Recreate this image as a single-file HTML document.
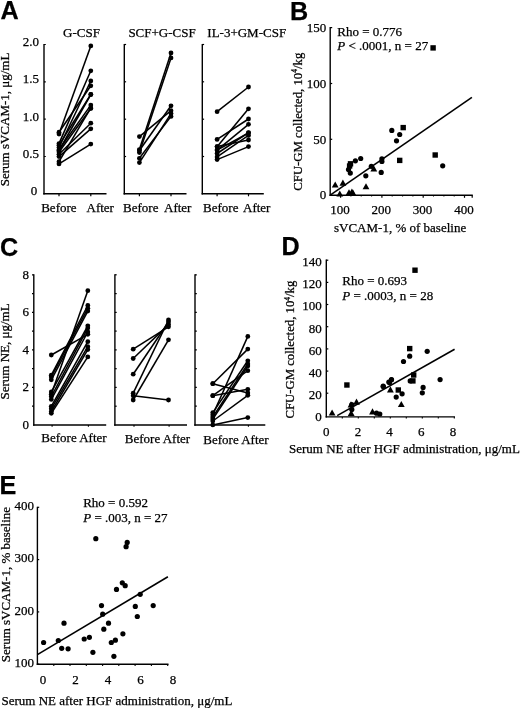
<!DOCTYPE html>
<html><head><meta charset="utf-8"><style>
html,body{margin:0;padding:0;background:#fff;width:520px;height:708px;overflow:hidden}
svg{display:block;will-change:transform}
text{font-family:"Liberation Serif", serif;fill:#000;stroke:#000;stroke-width:0.25px}
</style></head><body>
<svg width="520" height="708" viewBox="0 0 520 708">
<rect width="520" height="708" fill="#fff"/>
<text x="0.5" y="18.8" style='font-family:"Liberation Sans", sans-serif;font-weight:bold' font-size="25.2">A</text>
<line x1="44.0" y1="44.0" x2="44.0" y2="194.5" stroke="#000" stroke-width="1.4"/>
<line x1="43.3" y1="193.8" x2="106.5" y2="193.8" stroke="#000" stroke-width="1.4"/>
<line x1="44.0" y1="156.5" x2="45.8" y2="156.5" stroke="#000" stroke-width="1.2"/>
<line x1="44.0" y1="119.2" x2="45.8" y2="119.2" stroke="#000" stroke-width="1.2"/>
<line x1="44.0" y1="81.8" x2="45.8" y2="81.8" stroke="#000" stroke-width="1.2"/>
<line x1="44.0" y1="44.5" x2="45.8" y2="44.5" stroke="#000" stroke-width="1.2"/>
<line x1="59.0" y1="193.8" x2="59.0" y2="196.3" stroke="#000" stroke-width="1.2"/>
<line x1="90.8" y1="193.8" x2="90.8" y2="196.3" stroke="#000" stroke-width="1.2"/>
<text x="63.1" y="37.2" text-anchor="start" font-size="13" >G-CSF</text>
<text x="41.2" y="211.8" text-anchor="start" font-size="13" >Before</text>
<text x="86.5" y="211.8" text-anchor="start" font-size="13" >After</text>
<line x1="124.3" y1="44.0" x2="124.3" y2="194.5" stroke="#000" stroke-width="1.4"/>
<line x1="123.6" y1="193.8" x2="186.5" y2="193.8" stroke="#000" stroke-width="1.4"/>
<line x1="124.3" y1="156.5" x2="126.1" y2="156.5" stroke="#000" stroke-width="1.2"/>
<line x1="124.3" y1="119.2" x2="126.1" y2="119.2" stroke="#000" stroke-width="1.2"/>
<line x1="124.3" y1="81.8" x2="126.1" y2="81.8" stroke="#000" stroke-width="1.2"/>
<line x1="124.3" y1="44.5" x2="126.1" y2="44.5" stroke="#000" stroke-width="1.2"/>
<line x1="139.4" y1="193.8" x2="139.4" y2="196.3" stroke="#000" stroke-width="1.2"/>
<line x1="171.0" y1="193.8" x2="171.0" y2="196.3" stroke="#000" stroke-width="1.2"/>
<text x="128.4" y="37.2" text-anchor="start" font-size="13" >SCF+G-CSF</text>
<text x="123.1" y="211.8" text-anchor="start" font-size="13" >Before</text>
<text x="164.0" y="211.8" text-anchor="start" font-size="13" >After</text>
<line x1="202.3" y1="44.0" x2="202.3" y2="194.5" stroke="#000" stroke-width="1.4"/>
<line x1="201.6" y1="193.8" x2="263.8" y2="193.8" stroke="#000" stroke-width="1.4"/>
<line x1="202.3" y1="156.5" x2="204.1" y2="156.5" stroke="#000" stroke-width="1.2"/>
<line x1="202.3" y1="119.2" x2="204.1" y2="119.2" stroke="#000" stroke-width="1.2"/>
<line x1="202.3" y1="81.8" x2="204.1" y2="81.8" stroke="#000" stroke-width="1.2"/>
<line x1="202.3" y1="44.5" x2="204.1" y2="44.5" stroke="#000" stroke-width="1.2"/>
<line x1="217.1" y1="193.8" x2="217.1" y2="196.3" stroke="#000" stroke-width="1.2"/>
<line x1="248.5" y1="193.8" x2="248.5" y2="196.3" stroke="#000" stroke-width="1.2"/>
<text x="207.3" y="37.2" text-anchor="start" font-size="13" >IL-3+GM-CSF</text>
<text x="203.1" y="211.8" text-anchor="start" font-size="13" >Before</text>
<text x="243.0" y="211.8" text-anchor="start" font-size="13" >After</text>
<text x="39.0" y="45.9" text-anchor="end" font-size="13" >2.0</text>
<text x="39.0" y="83.2" text-anchor="end" font-size="13" >1.5</text>
<text x="39.0" y="120.6" text-anchor="end" font-size="13" >1.0</text>
<text x="39.0" y="157.9" text-anchor="end" font-size="13" >0.5</text>
<text x="37.2" y="195.2" text-anchor="end" font-size="13" >0</text>
<text transform="translate(9.2,186.3) rotate(-90)" font-size="13">Serum sVCAM-1, μg/mL</text>
<line x1="59.0" y1="134.0" x2="90.8" y2="45.9" stroke="#000" stroke-width="1.55"/>
<line x1="59.0" y1="132.2" x2="90.8" y2="85.8" stroke="#000" stroke-width="1.55"/>
<line x1="59.0" y1="143.6" x2="90.8" y2="70.8" stroke="#000" stroke-width="1.55"/>
<line x1="59.0" y1="147.5" x2="90.8" y2="81.0" stroke="#000" stroke-width="1.55"/>
<line x1="59.0" y1="145.2" x2="90.8" y2="94.5" stroke="#000" stroke-width="1.55"/>
<line x1="59.0" y1="149.8" x2="90.8" y2="105.1" stroke="#000" stroke-width="1.55"/>
<line x1="59.0" y1="152.0" x2="90.8" y2="108.5" stroke="#000" stroke-width="1.55"/>
<line x1="59.0" y1="154.3" x2="90.8" y2="123.2" stroke="#000" stroke-width="1.55"/>
<line x1="59.0" y1="156.6" x2="90.8" y2="128.8" stroke="#000" stroke-width="1.55"/>
<line x1="59.0" y1="161.7" x2="90.8" y2="107.9" stroke="#000" stroke-width="1.55"/>
<line x1="59.0" y1="163.9" x2="90.8" y2="144.1" stroke="#000" stroke-width="1.55"/>
<line x1="59.0" y1="150.5" x2="90.8" y2="94.5" stroke="#000" stroke-width="1.55"/>
<circle cx="59.0" cy="134.0" r="2.4"/>
<circle cx="90.8" cy="45.9" r="2.4"/>
<circle cx="59.0" cy="132.2" r="2.4"/>
<circle cx="90.8" cy="85.8" r="2.4"/>
<circle cx="59.0" cy="143.6" r="2.4"/>
<circle cx="90.8" cy="70.8" r="2.4"/>
<circle cx="59.0" cy="147.5" r="2.4"/>
<circle cx="90.8" cy="81.0" r="2.4"/>
<circle cx="59.0" cy="145.2" r="2.4"/>
<circle cx="90.8" cy="94.5" r="2.4"/>
<circle cx="59.0" cy="149.8" r="2.4"/>
<circle cx="90.8" cy="105.1" r="2.4"/>
<circle cx="59.0" cy="152.0" r="2.4"/>
<circle cx="90.8" cy="108.5" r="2.4"/>
<circle cx="59.0" cy="154.3" r="2.4"/>
<circle cx="90.8" cy="123.2" r="2.4"/>
<circle cx="59.0" cy="156.6" r="2.4"/>
<circle cx="90.8" cy="128.8" r="2.4"/>
<circle cx="59.0" cy="161.7" r="2.4"/>
<circle cx="90.8" cy="107.9" r="2.4"/>
<circle cx="59.0" cy="163.9" r="2.4"/>
<circle cx="90.8" cy="144.1" r="2.4"/>
<circle cx="59.0" cy="150.5" r="2.4"/>
<circle cx="90.8" cy="94.5" r="2.4"/>
<line x1="139.4" y1="136.6" x2="171.0" y2="110.7" stroke="#000" stroke-width="1.55"/>
<line x1="139.4" y1="149.6" x2="171.0" y2="53.0" stroke="#000" stroke-width="1.55"/>
<line x1="139.4" y1="152.5" x2="171.0" y2="57.9" stroke="#000" stroke-width="1.55"/>
<line x1="139.4" y1="158.3" x2="171.0" y2="116.4" stroke="#000" stroke-width="1.55"/>
<line x1="139.4" y1="162.6" x2="171.0" y2="113.6" stroke="#000" stroke-width="1.55"/>
<line x1="139.4" y1="150.5" x2="171.0" y2="105.8" stroke="#000" stroke-width="1.55"/>
<circle cx="139.4" cy="136.6" r="2.4"/>
<circle cx="171.0" cy="110.7" r="2.4"/>
<circle cx="139.4" cy="149.6" r="2.4"/>
<circle cx="171.0" cy="53.0" r="2.4"/>
<circle cx="139.4" cy="152.5" r="2.4"/>
<circle cx="171.0" cy="57.9" r="2.4"/>
<circle cx="139.4" cy="158.3" r="2.4"/>
<circle cx="171.0" cy="116.4" r="2.4"/>
<circle cx="139.4" cy="162.6" r="2.4"/>
<circle cx="171.0" cy="113.6" r="2.4"/>
<circle cx="139.4" cy="150.5" r="2.4"/>
<circle cx="171.0" cy="105.8" r="2.4"/>
<line x1="217.1" y1="111.7" x2="248.5" y2="87.0" stroke="#000" stroke-width="1.55"/>
<line x1="217.1" y1="139.4" x2="248.5" y2="119.0" stroke="#000" stroke-width="1.55"/>
<line x1="217.1" y1="146.7" x2="248.5" y2="108.8" stroke="#000" stroke-width="1.55"/>
<line x1="217.1" y1="150.1" x2="248.5" y2="124.3" stroke="#000" stroke-width="1.55"/>
<line x1="217.1" y1="153.5" x2="248.5" y2="132.6" stroke="#000" stroke-width="1.55"/>
<line x1="217.1" y1="156.9" x2="248.5" y2="135.4" stroke="#000" stroke-width="1.55"/>
<line x1="217.1" y1="146.6" x2="248.5" y2="140.0" stroke="#000" stroke-width="1.55"/>
<line x1="217.1" y1="159.6" x2="248.5" y2="146.6" stroke="#000" stroke-width="1.55"/>
<line x1="217.1" y1="150.1" x2="248.5" y2="133.0" stroke="#000" stroke-width="1.55"/>
<circle cx="217.1" cy="111.7" r="2.4"/>
<circle cx="248.5" cy="87.0" r="2.4"/>
<circle cx="217.1" cy="139.4" r="2.4"/>
<circle cx="248.5" cy="119.0" r="2.4"/>
<circle cx="217.1" cy="146.7" r="2.4"/>
<circle cx="248.5" cy="108.8" r="2.4"/>
<circle cx="217.1" cy="150.1" r="2.4"/>
<circle cx="248.5" cy="124.3" r="2.4"/>
<circle cx="217.1" cy="153.5" r="2.4"/>
<circle cx="248.5" cy="132.6" r="2.4"/>
<circle cx="217.1" cy="156.9" r="2.4"/>
<circle cx="248.5" cy="135.4" r="2.4"/>
<circle cx="217.1" cy="146.6" r="2.4"/>
<circle cx="248.5" cy="140.0" r="2.4"/>
<circle cx="217.1" cy="159.6" r="2.4"/>
<circle cx="248.5" cy="146.6" r="2.4"/>
<circle cx="217.1" cy="150.1" r="2.4"/>
<circle cx="248.5" cy="133.0" r="2.4"/>
<text x="290.0" y="20.0" style='font-family:"Liberation Sans", sans-serif;font-weight:bold' font-size="25.2">B</text>
<line x1="330.2" y1="27.0" x2="330.2" y2="195.9" stroke="#000" stroke-width="1.4"/>
<line x1="329.5" y1="195.2" x2="472.8" y2="195.2" stroke="#000" stroke-width="1.4"/>
<line x1="330.2" y1="195.2" x2="332.2" y2="195.2" stroke="#000" stroke-width="1.2"/>
<line x1="330.2" y1="139.3" x2="332.2" y2="139.3" stroke="#000" stroke-width="1.2"/>
<line x1="330.2" y1="83.5" x2="332.2" y2="83.5" stroke="#000" stroke-width="1.2"/>
<line x1="330.2" y1="27.6" x2="332.2" y2="27.6" stroke="#000" stroke-width="1.2"/>
<line x1="340.6" y1="195.2" x2="340.6" y2="197.8" stroke="#000" stroke-width="1.2"/>
<line x1="381.9" y1="195.2" x2="381.9" y2="197.8" stroke="#000" stroke-width="1.2"/>
<line x1="423.2" y1="195.2" x2="423.2" y2="197.8" stroke="#000" stroke-width="1.2"/>
<line x1="464.5" y1="195.2" x2="464.5" y2="197.8" stroke="#000" stroke-width="1.2"/>
<line x1="350.9" y1="195.2" x2="350.9" y2="196.5" stroke="#000" stroke-width="1.0"/>
<line x1="361.2" y1="195.2" x2="361.2" y2="196.5" stroke="#000" stroke-width="1.0"/>
<line x1="371.6" y1="195.2" x2="371.6" y2="196.5" stroke="#000" stroke-width="1.0"/>
<line x1="392.2" y1="195.2" x2="392.2" y2="196.5" stroke="#000" stroke-width="1.0"/>
<line x1="402.6" y1="195.2" x2="402.6" y2="196.5" stroke="#000" stroke-width="1.0"/>
<line x1="412.9" y1="195.2" x2="412.9" y2="196.5" stroke="#000" stroke-width="1.0"/>
<line x1="433.5" y1="195.2" x2="433.5" y2="196.5" stroke="#000" stroke-width="1.0"/>
<line x1="443.9" y1="195.2" x2="443.9" y2="196.5" stroke="#000" stroke-width="1.0"/>
<line x1="454.2" y1="195.2" x2="454.2" y2="196.5" stroke="#000" stroke-width="1.0"/>
<line x1="472.2" y1="195.2" x2="472.2" y2="197.8" stroke="#000" stroke-width="1.2"/>
<text x="326.2" y="32.4" text-anchor="end" font-size="13" >150</text>
<text x="326.2" y="88.3" text-anchor="end" font-size="13" >100</text>
<text x="326.2" y="144.1" text-anchor="end" font-size="13" >50</text>
<text x="326.2" y="199.3" text-anchor="end" font-size="13" >0</text>
<text x="340.0" y="214.3" text-anchor="middle" font-size="13" >100</text>
<text x="381.3" y="214.3" text-anchor="middle" font-size="13" >200</text>
<text x="422.6" y="214.3" text-anchor="middle" font-size="13" >300</text>
<text x="463.9" y="214.3" text-anchor="middle" font-size="13" >400</text>
<text x="334.0" y="231.8" text-anchor="start" font-size="13" >sVCAM-1, % of baseline</text>
<text transform="translate(302.0,190.7) rotate(-90)" font-size="12.75">CFU-GM collected, 10<tspan font-size="7.5" dy="-4.8">4</tspan><tspan dy="4.8">/kg</tspan></text>
<text x="337.3" y="35.6" text-anchor="start" font-size="13" >Rho = 0.776</text>
<text x="337.3" y="49.8" text-anchor="start" font-size="13" ><tspan font-style="italic">P</tspan> &lt; .0001, n = 27</text>
<rect x="430.4" y="45.2" width="5.4" height="5.4"/>
<line x1="330.2" y1="195.2" x2="471.9" y2="97.3" stroke="#000" stroke-width="1.6"/>
<circle cx="391.8" cy="130.4" r="2.6"/>
<circle cx="399.7" cy="134.5" r="2.6"/>
<circle cx="396.5" cy="140.8" r="2.6"/>
<circle cx="355.4" cy="160.8" r="2.6"/>
<circle cx="360.7" cy="158.5" r="2.6"/>
<circle cx="381.9" cy="158.8" r="2.6"/>
<circle cx="381.9" cy="161.5" r="2.6"/>
<circle cx="348.5" cy="169.6" r="2.6"/>
<circle cx="350.3" cy="173.1" r="2.6"/>
<circle cx="365.8" cy="175.8" r="2.6"/>
<circle cx="381.2" cy="172.4" r="2.6"/>
<circle cx="371.3" cy="166.3" r="2.6"/>
<circle cx="442.7" cy="165.8" r="2.6"/>
<rect x="400.5" y="124.9" width="5.4" height="5.4"/>
<rect x="397.0" y="157.7" width="5.4" height="5.4"/>
<rect x="347.8" y="161.1" width="5.4" height="5.4"/>
<rect x="346.9" y="163.3" width="5.4" height="5.4"/>
<rect x="432.5" y="152.3" width="5.4" height="5.4"/>
<path d="M335.2 181.5L338.6 187.6L331.8 187.6Z"/>
<path d="M342.9 179.6L346.3 185.7L339.5 185.7Z"/>
<path d="M339.8 190.5L343.2 196.6L336.4 196.6Z"/>
<path d="M349.0 189.2L352.4 195.3L345.6 195.3Z"/>
<path d="M351.9 188.4L355.3 194.5L348.5 194.5Z"/>
<path d="M353.0 189.6L356.4 195.7L349.6 195.7Z"/>
<path d="M366.0 183.2L369.4 189.3L362.6 189.3Z"/>
<path d="M373.8 165.3L377.2 171.4L370.4 171.4Z"/>
<text x="0.0" y="255.5" style='font-family:"Liberation Sans", sans-serif;font-weight:bold' font-size="25.2">C</text>
<line x1="33.8" y1="274.3" x2="33.8" y2="425.7" stroke="#000" stroke-width="1.4"/>
<line x1="33.1" y1="425.0" x2="106.2" y2="425.0" stroke="#000" stroke-width="1.4"/>
<line x1="32.0" y1="406.2" x2="33.8" y2="406.2" stroke="#000" stroke-width="1.2"/>
<line x1="32.0" y1="387.4" x2="33.8" y2="387.4" stroke="#000" stroke-width="1.2"/>
<line x1="32.0" y1="368.7" x2="33.8" y2="368.7" stroke="#000" stroke-width="1.2"/>
<line x1="32.0" y1="349.9" x2="33.8" y2="349.9" stroke="#000" stroke-width="1.2"/>
<line x1="32.0" y1="331.1" x2="33.8" y2="331.1" stroke="#000" stroke-width="1.2"/>
<line x1="32.0" y1="312.4" x2="33.8" y2="312.4" stroke="#000" stroke-width="1.2"/>
<line x1="32.0" y1="293.6" x2="33.8" y2="293.6" stroke="#000" stroke-width="1.2"/>
<line x1="32.0" y1="274.8" x2="33.8" y2="274.8" stroke="#000" stroke-width="1.2"/>
<text x="41.3" y="442.4" text-anchor="start" font-size="13" >Before After</text>
<line x1="52.1" y1="425.0" x2="52.1" y2="426.8" stroke="#000" stroke-width="1.1"/>
<line x1="88.4" y1="425.0" x2="88.4" y2="426.8" stroke="#000" stroke-width="1.1"/>
<line x1="114.9" y1="274.3" x2="114.9" y2="425.7" stroke="#000" stroke-width="1.4"/>
<line x1="114.2" y1="425.0" x2="187.0" y2="425.0" stroke="#000" stroke-width="1.4"/>
<line x1="114.9" y1="406.2" x2="116.7" y2="406.2" stroke="#000" stroke-width="1.2"/>
<line x1="114.9" y1="387.4" x2="116.7" y2="387.4" stroke="#000" stroke-width="1.2"/>
<line x1="114.9" y1="368.7" x2="116.7" y2="368.7" stroke="#000" stroke-width="1.2"/>
<line x1="114.9" y1="349.9" x2="116.7" y2="349.9" stroke="#000" stroke-width="1.2"/>
<line x1="114.9" y1="331.1" x2="116.7" y2="331.1" stroke="#000" stroke-width="1.2"/>
<line x1="114.9" y1="312.4" x2="116.7" y2="312.4" stroke="#000" stroke-width="1.2"/>
<line x1="114.9" y1="293.6" x2="116.7" y2="293.6" stroke="#000" stroke-width="1.2"/>
<line x1="114.9" y1="274.8" x2="116.7" y2="274.8" stroke="#000" stroke-width="1.2"/>
<text x="124.8" y="442.7" text-anchor="start" font-size="13" >Before After</text>
<line x1="134.0" y1="425.0" x2="134.0" y2="426.8" stroke="#000" stroke-width="1.1"/>
<line x1="169.1" y1="425.0" x2="169.1" y2="426.8" stroke="#000" stroke-width="1.1"/>
<line x1="195.0" y1="274.3" x2="195.0" y2="425.7" stroke="#000" stroke-width="1.4"/>
<line x1="194.3" y1="425.0" x2="265.3" y2="425.0" stroke="#000" stroke-width="1.4"/>
<line x1="195.0" y1="406.2" x2="196.8" y2="406.2" stroke="#000" stroke-width="1.2"/>
<line x1="195.0" y1="387.4" x2="196.8" y2="387.4" stroke="#000" stroke-width="1.2"/>
<line x1="195.0" y1="368.7" x2="196.8" y2="368.7" stroke="#000" stroke-width="1.2"/>
<line x1="195.0" y1="349.9" x2="196.8" y2="349.9" stroke="#000" stroke-width="1.2"/>
<line x1="195.0" y1="331.1" x2="196.8" y2="331.1" stroke="#000" stroke-width="1.2"/>
<line x1="195.0" y1="312.4" x2="196.8" y2="312.4" stroke="#000" stroke-width="1.2"/>
<line x1="195.0" y1="293.6" x2="196.8" y2="293.6" stroke="#000" stroke-width="1.2"/>
<line x1="195.0" y1="274.8" x2="196.8" y2="274.8" stroke="#000" stroke-width="1.2"/>
<text x="203.3" y="444.2" text-anchor="start" font-size="13" >Before After</text>
<line x1="213.6" y1="425.0" x2="213.6" y2="426.8" stroke="#000" stroke-width="1.1"/>
<line x1="248.4" y1="425.0" x2="248.4" y2="426.8" stroke="#000" stroke-width="1.1"/>
<text x="29.0" y="429.0" text-anchor="end" font-size="13" >0</text>
<text x="29.0" y="391.4" text-anchor="end" font-size="13" >2</text>
<text x="29.0" y="353.9" text-anchor="end" font-size="13" >4</text>
<text x="29.0" y="316.4" text-anchor="end" font-size="13" >6</text>
<text x="29.0" y="278.8" text-anchor="end" font-size="13" >8</text>
<text transform="translate(9.4,399.5) rotate(-90)" font-size="13">Serum NE, μg/mL</text>
<line x1="51.3" y1="355.0" x2="87.8" y2="334.3" stroke="#000" stroke-width="1.55"/>
<line x1="51.3" y1="375.2" x2="87.8" y2="305.5" stroke="#000" stroke-width="1.55"/>
<line x1="51.3" y1="376.9" x2="87.8" y2="308.3" stroke="#000" stroke-width="1.55"/>
<line x1="51.3" y1="379.8" x2="87.8" y2="311.1" stroke="#000" stroke-width="1.55"/>
<line x1="51.3" y1="391.9" x2="87.8" y2="325.8" stroke="#000" stroke-width="1.55"/>
<line x1="51.3" y1="394.2" x2="87.8" y2="290.7" stroke="#000" stroke-width="1.55"/>
<line x1="51.3" y1="396.5" x2="87.8" y2="328.1" stroke="#000" stroke-width="1.55"/>
<line x1="51.3" y1="399.4" x2="87.8" y2="332.0" stroke="#000" stroke-width="1.55"/>
<line x1="51.3" y1="406.3" x2="87.8" y2="341.7" stroke="#000" stroke-width="1.55"/>
<line x1="51.3" y1="408.7" x2="87.8" y2="346.7" stroke="#000" stroke-width="1.55"/>
<line x1="51.3" y1="411.5" x2="87.8" y2="349.6" stroke="#000" stroke-width="1.55"/>
<line x1="51.3" y1="413.3" x2="87.8" y2="356.9" stroke="#000" stroke-width="1.55"/>
<circle cx="51.3" cy="355.0" r="2.4"/>
<circle cx="87.8" cy="334.3" r="2.4"/>
<circle cx="51.3" cy="375.2" r="2.4"/>
<circle cx="87.8" cy="305.5" r="2.4"/>
<circle cx="51.3" cy="376.9" r="2.4"/>
<circle cx="87.8" cy="308.3" r="2.4"/>
<circle cx="51.3" cy="379.8" r="2.4"/>
<circle cx="87.8" cy="311.1" r="2.4"/>
<circle cx="51.3" cy="391.9" r="2.4"/>
<circle cx="87.8" cy="325.8" r="2.4"/>
<circle cx="51.3" cy="394.2" r="2.4"/>
<circle cx="87.8" cy="290.7" r="2.4"/>
<circle cx="51.3" cy="396.5" r="2.4"/>
<circle cx="87.8" cy="328.1" r="2.4"/>
<circle cx="51.3" cy="399.4" r="2.4"/>
<circle cx="87.8" cy="332.0" r="2.4"/>
<circle cx="51.3" cy="406.3" r="2.4"/>
<circle cx="87.8" cy="341.7" r="2.4"/>
<circle cx="51.3" cy="408.7" r="2.4"/>
<circle cx="87.8" cy="346.7" r="2.4"/>
<circle cx="51.3" cy="411.5" r="2.4"/>
<circle cx="87.8" cy="349.6" r="2.4"/>
<circle cx="51.3" cy="413.3" r="2.4"/>
<circle cx="87.8" cy="356.9" r="2.4"/>
<line x1="133.2" y1="349.2" x2="168.5" y2="326.8" stroke="#000" stroke-width="1.55"/>
<line x1="133.2" y1="358.5" x2="168.5" y2="324.6" stroke="#000" stroke-width="1.55"/>
<line x1="133.2" y1="374.2" x2="168.5" y2="322.0" stroke="#000" stroke-width="1.55"/>
<line x1="133.2" y1="393.2" x2="168.5" y2="320.0" stroke="#000" stroke-width="1.55"/>
<line x1="133.2" y1="395.8" x2="168.5" y2="400.0" stroke="#000" stroke-width="1.55"/>
<line x1="133.2" y1="400.0" x2="168.5" y2="339.8" stroke="#000" stroke-width="1.55"/>
<circle cx="133.2" cy="349.2" r="2.4"/>
<circle cx="168.5" cy="326.8" r="2.4"/>
<circle cx="133.2" cy="358.5" r="2.4"/>
<circle cx="168.5" cy="324.6" r="2.4"/>
<circle cx="133.2" cy="374.2" r="2.4"/>
<circle cx="168.5" cy="322.0" r="2.4"/>
<circle cx="133.2" cy="393.2" r="2.4"/>
<circle cx="168.5" cy="320.0" r="2.4"/>
<circle cx="133.2" cy="395.8" r="2.4"/>
<circle cx="168.5" cy="400.0" r="2.4"/>
<circle cx="133.2" cy="400.0" r="2.4"/>
<circle cx="168.5" cy="339.8" r="2.4"/>
<line x1="212.8" y1="383.7" x2="247.8" y2="349.1" stroke="#000" stroke-width="1.55"/>
<line x1="212.8" y1="383.7" x2="247.8" y2="392.9" stroke="#000" stroke-width="1.55"/>
<line x1="212.8" y1="395.7" x2="247.8" y2="389.3" stroke="#000" stroke-width="1.55"/>
<line x1="212.8" y1="395.7" x2="247.8" y2="370.7" stroke="#000" stroke-width="1.55"/>
<line x1="212.8" y1="414.7" x2="247.8" y2="336.4" stroke="#000" stroke-width="1.55"/>
<line x1="212.8" y1="412.6" x2="247.8" y2="360.8" stroke="#000" stroke-width="1.55"/>
<line x1="212.8" y1="416.9" x2="247.8" y2="363.9" stroke="#000" stroke-width="1.55"/>
<line x1="212.8" y1="419.0" x2="247.8" y2="366.0" stroke="#000" stroke-width="1.55"/>
<line x1="212.8" y1="421.0" x2="247.8" y2="395.3" stroke="#000" stroke-width="1.55"/>
<line x1="212.8" y1="424.9" x2="247.8" y2="417.6" stroke="#000" stroke-width="1.55"/>
<circle cx="212.8" cy="383.7" r="2.4"/>
<circle cx="247.8" cy="349.1" r="2.4"/>
<circle cx="212.8" cy="383.7" r="2.4"/>
<circle cx="247.8" cy="392.9" r="2.4"/>
<circle cx="212.8" cy="395.7" r="2.4"/>
<circle cx="247.8" cy="389.3" r="2.4"/>
<circle cx="212.8" cy="395.7" r="2.4"/>
<circle cx="247.8" cy="370.7" r="2.4"/>
<circle cx="212.8" cy="414.7" r="2.4"/>
<circle cx="247.8" cy="336.4" r="2.4"/>
<circle cx="212.8" cy="412.6" r="2.4"/>
<circle cx="247.8" cy="360.8" r="2.4"/>
<circle cx="212.8" cy="416.9" r="2.4"/>
<circle cx="247.8" cy="363.9" r="2.4"/>
<circle cx="212.8" cy="419.0" r="2.4"/>
<circle cx="247.8" cy="366.0" r="2.4"/>
<circle cx="212.8" cy="421.0" r="2.4"/>
<circle cx="247.8" cy="395.3" r="2.4"/>
<circle cx="212.8" cy="424.9" r="2.4"/>
<circle cx="247.8" cy="417.6" r="2.4"/>
<text x="281.5" y="255.2" style='font-family:"Liberation Sans", sans-serif;font-weight:bold' font-size="25.2">D</text>
<line x1="326.3" y1="259.6" x2="326.3" y2="417.6" stroke="#000" stroke-width="1.4"/>
<line x1="325.6" y1="416.9" x2="455.0" y2="416.9" stroke="#000" stroke-width="1.4"/>
<line x1="326.3" y1="393.2" x2="328.3" y2="393.2" stroke="#000" stroke-width="1.2"/>
<line x1="326.3" y1="371.1" x2="328.3" y2="371.1" stroke="#000" stroke-width="1.2"/>
<line x1="326.3" y1="348.9" x2="328.3" y2="348.9" stroke="#000" stroke-width="1.2"/>
<line x1="326.3" y1="326.7" x2="328.3" y2="326.7" stroke="#000" stroke-width="1.2"/>
<line x1="326.3" y1="304.5" x2="328.3" y2="304.5" stroke="#000" stroke-width="1.2"/>
<line x1="326.3" y1="282.4" x2="328.3" y2="282.4" stroke="#000" stroke-width="1.2"/>
<line x1="326.3" y1="260.2" x2="328.3" y2="260.2" stroke="#000" stroke-width="1.2"/>
<text x="321.8" y="420.7" text-anchor="end" font-size="13" >0</text>
<text x="321.8" y="398.6" text-anchor="end" font-size="13" >20</text>
<text x="321.8" y="376.6" text-anchor="end" font-size="13" >40</text>
<text x="321.8" y="354.5" text-anchor="end" font-size="13" >60</text>
<text x="321.8" y="332.5" text-anchor="end" font-size="13" >80</text>
<text x="321.8" y="310.4" text-anchor="end" font-size="13" >100</text>
<text x="321.8" y="288.3" text-anchor="end" font-size="13" >120</text>
<text x="321.8" y="266.3" text-anchor="end" font-size="13" >140</text>
<line x1="342.3" y1="416.9" x2="342.3" y2="418.5" stroke="#000" stroke-width="1.1"/>
<line x1="358.3" y1="416.9" x2="358.3" y2="418.5" stroke="#000" stroke-width="1.1"/>
<line x1="374.3" y1="416.9" x2="374.3" y2="418.5" stroke="#000" stroke-width="1.1"/>
<line x1="390.3" y1="416.9" x2="390.3" y2="418.5" stroke="#000" stroke-width="1.1"/>
<line x1="406.3" y1="416.9" x2="406.3" y2="418.5" stroke="#000" stroke-width="1.1"/>
<line x1="422.3" y1="416.9" x2="422.3" y2="418.5" stroke="#000" stroke-width="1.1"/>
<line x1="438.3" y1="416.9" x2="438.3" y2="418.5" stroke="#000" stroke-width="1.1"/>
<line x1="454.3" y1="416.9" x2="454.3" y2="418.5" stroke="#000" stroke-width="1.1"/>
<text x="326.2" y="436.0" text-anchor="middle" font-size="13" >0</text>
<text x="357.9" y="436.0" text-anchor="middle" font-size="13" >2</text>
<text x="389.6" y="436.0" text-anchor="middle" font-size="13" >4</text>
<text x="421.3" y="436.0" text-anchor="middle" font-size="13" >6</text>
<text x="453.0" y="436.0" text-anchor="middle" font-size="13" >8</text>
<text x="289.0" y="452.8" text-anchor="start" font-size="13" >Serum NE after HGF administration, μg/mL</text>
<text transform="translate(294.3,418.6) rotate(-90)" font-size="12.75">CFU-GM collected, 10<tspan font-size="7.5" dy="-4.8">4</tspan><tspan dy="4.8">/kg</tspan></text>
<text x="342.3" y="284.5" text-anchor="start" font-size="13" >Rho = 0.693</text>
<text x="342.3" y="299.7" text-anchor="start" font-size="13" ><tspan font-style="italic">P</tspan> = .0003, n = 28</text>
<line x1="337.2" y1="415.6" x2="454.6" y2="349.3" stroke="#000" stroke-width="1.6"/>
<rect x="412.3" y="267.5" width="5.4" height="5.4"/>
<rect x="407.0" y="345.9" width="5.4" height="5.4"/>
<rect x="344.2" y="382.3" width="5.4" height="5.4"/>
<rect x="411.0" y="372.3" width="5.4" height="5.4"/>
<rect x="410.2" y="378.2" width="5.4" height="5.4"/>
<rect x="395.6" y="387.3" width="5.4" height="5.4"/>
<circle cx="427.2" cy="351.3" r="2.6"/>
<circle cx="409.7" cy="356.2" r="2.6"/>
<circle cx="403.5" cy="361.5" r="2.6"/>
<circle cx="440.1" cy="379.6" r="2.6"/>
<circle cx="391.4" cy="379.8" r="2.6"/>
<circle cx="389.5" cy="382.5" r="2.6"/>
<circle cx="383.3" cy="386.6" r="2.6"/>
<circle cx="410.2" cy="380.9" r="2.6"/>
<circle cx="423.1" cy="387.4" r="2.6"/>
<circle cx="422.3" cy="392.8" r="2.6"/>
<circle cx="396.2" cy="397.1" r="2.6"/>
<circle cx="402.1" cy="393.8" r="2.6"/>
<circle cx="351.8" cy="404.6" r="2.6"/>
<circle cx="351.8" cy="409.5" r="2.6"/>
<circle cx="376.5" cy="413.2" r="2.6"/>
<circle cx="379.8" cy="414.0" r="2.6"/>
<circle cx="383.2" cy="386.2" r="2.6"/>
<circle cx="388.8" cy="382.0" r="2.6"/>
<circle cx="391.5" cy="379.5" r="2.6"/>
<path d="M332.1 409.5L335.5 415.6L328.7 415.6Z"/>
<path d="M356.5 398.6L359.9 404.7L353.1 404.7Z"/>
<path d="M351.0 401.3L354.4 407.4L347.6 407.4Z"/>
<path d="M351.2 409.8L354.6 415.9L347.8 415.9Z"/>
<path d="M390.4 386.3L393.8 392.4L387.0 392.4Z"/>
<path d="M401.3 400.9L404.7 407.0L397.9 407.0Z"/>
<path d="M372.5 408.3L375.9 414.4L369.1 414.4Z"/>
<text x="-0.6" y="493.8" style='font-family:"Liberation Sans", sans-serif;font-weight:bold' font-size="25.2">E</text>
<line x1="37.4" y1="506.8" x2="37.4" y2="664.9" stroke="#000" stroke-width="1.4"/>
<line x1="36.7" y1="664.2" x2="168.5" y2="664.2" stroke="#000" stroke-width="1.4"/>
<line x1="37.4" y1="664.2" x2="39.2" y2="664.2" stroke="#000" stroke-width="1.2"/>
<text x="33.9" y="667.0" text-anchor="end" font-size="13" >100</text>
<line x1="37.4" y1="611.9" x2="39.2" y2="611.9" stroke="#000" stroke-width="1.2"/>
<text x="33.9" y="614.7" text-anchor="end" font-size="13" >200</text>
<line x1="37.4" y1="559.6" x2="39.2" y2="559.6" stroke="#000" stroke-width="1.2"/>
<text x="33.9" y="562.4" text-anchor="end" font-size="13" >300</text>
<line x1="37.4" y1="507.3" x2="39.2" y2="507.3" stroke="#000" stroke-width="1.2"/>
<text x="33.9" y="510.1" text-anchor="end" font-size="13" >400</text>
<line x1="53.8" y1="664.2" x2="53.8" y2="666.0" stroke="#000" stroke-width="1.1"/>
<line x1="70.0" y1="664.2" x2="70.0" y2="666.0" stroke="#000" stroke-width="1.1"/>
<line x1="86.3" y1="664.2" x2="86.3" y2="666.0" stroke="#000" stroke-width="1.1"/>
<line x1="102.6" y1="664.2" x2="102.6" y2="666.0" stroke="#000" stroke-width="1.1"/>
<line x1="118.8" y1="664.2" x2="118.8" y2="666.0" stroke="#000" stroke-width="1.1"/>
<line x1="135.1" y1="664.2" x2="135.1" y2="666.0" stroke="#000" stroke-width="1.1"/>
<line x1="151.4" y1="664.2" x2="151.4" y2="666.0" stroke="#000" stroke-width="1.1"/>
<line x1="167.7" y1="664.2" x2="167.7" y2="666.0" stroke="#000" stroke-width="1.1"/>
<text x="43.1" y="684.3" text-anchor="middle" font-size="13" >0</text>
<text x="75.6" y="684.3" text-anchor="middle" font-size="13" >2</text>
<text x="108.1" y="684.3" text-anchor="middle" font-size="13" >4</text>
<text x="140.6" y="684.3" text-anchor="middle" font-size="13" >6</text>
<text x="173.1" y="684.3" text-anchor="middle" font-size="13" >8</text>
<text x="1.5" y="704.6" text-anchor="start" font-size="13" >Serum NE after HGF administration, μg/mL</text>
<text transform="translate(10.0,662.2) rotate(-90)" font-size="13">Serum sVCAM-1, % baseline</text>
<text x="83.2" y="507.3" text-anchor="start" font-size="13" >Rho = 0.592</text>
<text x="83.2" y="521.6" text-anchor="start" font-size="13" ><tspan font-style="italic">P</tspan> = .003, n = 27</text>
<line x1="37.4" y1="654.6" x2="167.9" y2="576.7" stroke="#000" stroke-width="1.6"/>
<circle cx="95.8" cy="538.7" r="2.6"/>
<circle cx="127.2" cy="542.4" r="2.6"/>
<circle cx="126.1" cy="546.7" r="2.6"/>
<circle cx="116.5" cy="589.4" r="2.6"/>
<circle cx="122.3" cy="582.8" r="2.6"/>
<circle cx="125.2" cy="585.7" r="2.6"/>
<circle cx="140.2" cy="594.3" r="2.6"/>
<circle cx="101.5" cy="605.6" r="2.6"/>
<circle cx="102.7" cy="614.2" r="2.6"/>
<circle cx="135.3" cy="606.4" r="2.6"/>
<circle cx="137.3" cy="616.5" r="2.6"/>
<circle cx="153.2" cy="605.6" r="2.6"/>
<circle cx="64.0" cy="623.2" r="2.6"/>
<circle cx="108.5" cy="623.2" r="2.6"/>
<circle cx="103.8" cy="629.2" r="2.6"/>
<circle cx="43.6" cy="642.5" r="2.6"/>
<circle cx="58.3" cy="640.5" r="2.6"/>
<circle cx="84.2" cy="639.0" r="2.6"/>
<circle cx="89.4" cy="637.3" r="2.6"/>
<circle cx="61.7" cy="648.3" r="2.6"/>
<circle cx="68.1" cy="648.8" r="2.6"/>
<circle cx="92.9" cy="652.3" r="2.6"/>
<circle cx="111.3" cy="642.5" r="2.6"/>
<circle cx="115.4" cy="640.2" r="2.6"/>
<circle cx="122.9" cy="633.8" r="2.6"/>
<circle cx="113.9" cy="656.3" r="2.6"/>
</svg>
</body></html>
